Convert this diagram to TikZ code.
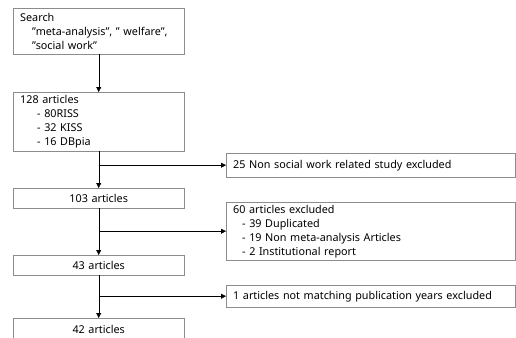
\documentclass[tikz,border=0pt]{standalone}
\usepackage{fontspec}
\setmainfont{Noto Sans}
\usetikzlibrary{positioning,arrows.meta}

\begin{document}
\begin{tikzpicture}[x = 1pt, y = -1pt, font = \fontsize{10.8}{14}\selectfont]
\useasboundingbox (0,0) rectangle (516,337);
\clip (0,0) rectangle (516,337);
\tikzset{box/.style = {draw = gray!90, shape = rectangle, anchor = north west, inner xsep = 7pt, inner ysep = 0pt, align = left},
         arr/.style = {-{Triangle[length = 5pt, width = 5pt]}}}
% left column
\node[box, minimum width = 171pt, minimum height = 46pt, text width = 157pt] (search) at (13,8) {Search\\\hspace*{12pt}"meta-analysis", " welfare",\\\hspace*{12pt}"social work"};
\node[box, minimum width = 171pt, minimum height = 59pt, text width = 157pt] (a128) at (13,92) {128 articles\\\hspace*{17pt}- 80RISS\\\hspace*{17pt}- 32 KISS\\\hspace*{17pt}- 16 DBpia};
\node[box, minimum width = 171pt, minimum height = 20pt, text width = 157pt, align = center] (a103) at (13,188) {103 articles};
\node[box, minimum width = 171pt, minimum height = 20pt, text width = 157pt, align = center] (a43) at (13,255) {43 articles};
\node[box, minimum width = 171pt, minimum height = 22pt, text width = 157pt, align = center] (a42) at (13,318) {42 articles};
% right column
\node[box, minimum width = 289pt, minimum height = 24pt, text width = 275pt, inner xsep = 6pt] (x25) at (226,153) {25 Non social work related study excluded};
\node[box, minimum width = 289pt, minimum height = 58pt, text width = 275pt, inner xsep = 6pt] (x60) at (226,202) {60 articles excluded\\\hspace*{9pt}- 39 Duplicated\\\hspace*{9pt}- 19 Non meta-analysis Articles\\\hspace*{9pt}- 2 Institutional report};
\node[box, minimum width = 289pt, minimum height = 22pt, text width = 275pt, inner xsep = 6pt] (x1) at (226,285) {1 articles not matching publication years excluded};
\coordinate (b25) at (a128.south |- x25.west);
\coordinate (b60) at (a103.south |- x60.west);
\coordinate (b1) at (a43.south |- x1.west);
\draw[arr] (search) -- (a128);
\draw[arr] (a128) -- (a103);
\draw[arr] (a103) -- (a43);
\draw[arr] (a43) -- (a42);
\draw[arr] (b25) -- (x25);
\draw[arr] (b60) -- (x60);
\draw[arr] (b1) -- (x1);
\end{tikzpicture}
\end{document}
